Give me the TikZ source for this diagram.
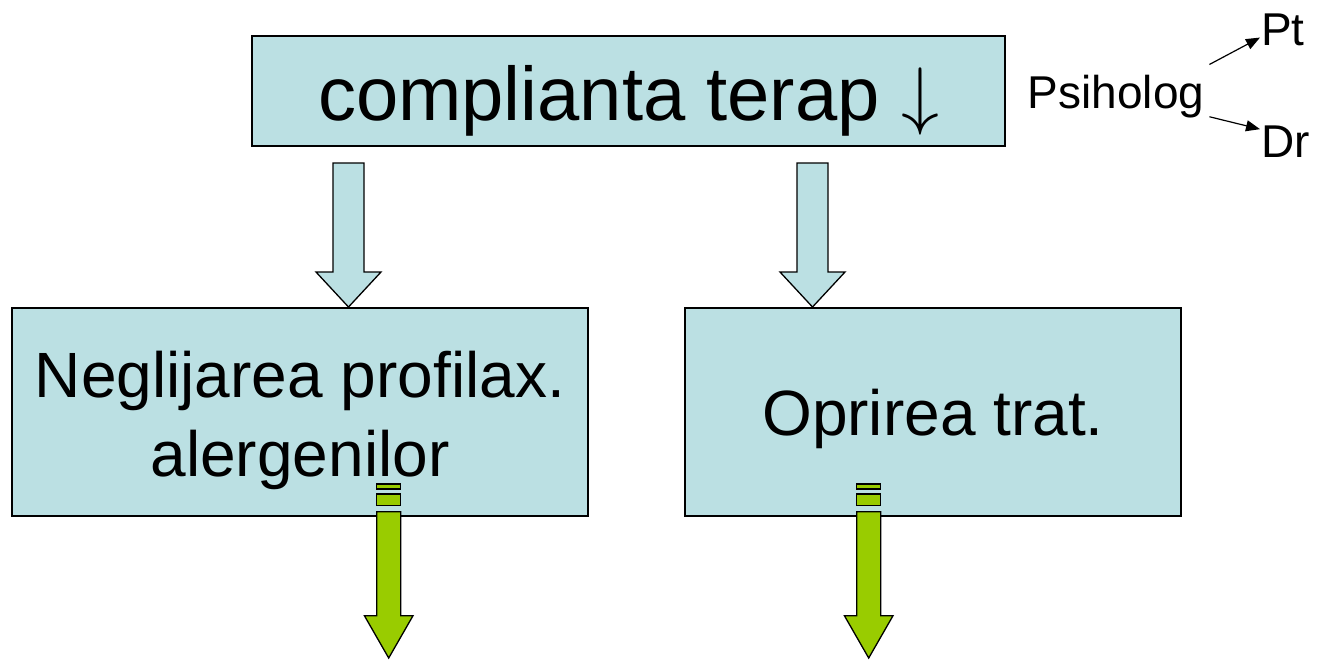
\documentclass[tikz,border=0pt]{standalone}
\usepackage{fontspec}
\setmainfont{Liberation Sans}
\usetikzlibrary{positioning}
\usetikzlibrary{arrows.meta}

\definecolor{boxblue}{HTML}{BBE0E3}
\definecolor{arrowgreen}{HTML}{99CC00}

\begin{document}
\begin{tikzpicture}[x=1pt, y=-1pt,
       box/.style = {draw, line width=1.5pt, fill=boxblue, inner sep=0pt, align=center},% boxes
     label/.style = {inner sep=0pt, font=\fontsize{46}{50}\selectfont},% small texts
     block/.style = {draw, line width=1.3pt, line join=miter}% fat arrows
    ]
    \useasboundingbox (0,0) rectangle (1320,659);
    % fat arrows between the boxes
    \foreach \cx in {348.5, 812.5}
        \draw[block, fill=boxblue] (\cx-15.5,163) -- (\cx+15.5,163) -- (\cx+15.5,272)
            -- (\cx+32.5,272) -- (\cx,307) -- (\cx-32.5,272) -- (\cx-15.5,272) -- cycle;
    % boxes
    \node (comp) [box, minimum width=753pt, minimum height=110pt, text height=70pt, text depth=12pt,
        font=\fontsize{76}{80}\selectfont] at (628.5,91)
        {complianta terap \scalebox{3.05}{$\downarrow$}};
    \node (negl) [box, minimum width=576pt, minimum height=208pt] at (300,412) {};
    \node (negltxt) [inner sep=0pt, align=center, anchor=north,
        font=\fontsize{64}{79}\selectfont] at (300,351) {Neglijarea profilax.\\alergenilor};
    \node (opri) [box, minimum width=496pt, minimum height=208pt, text height=56pt, text depth=10pt,
        font=\fontsize{64}{70}\selectfont] at (933,412) {Oprirea trat.};
    % green arrows out of the boxes
    \foreach \cx in {388.7, 868.7} {
        \draw[block, fill=arrowgreen] (\cx-12,484) rectangle (\cx+12,489);
        \draw[block, fill=arrowgreen] (\cx-12,494) rectangle (\cx+12,505.7);
        \draw[block, fill=arrowgreen] (\cx-12,511.7) -- (\cx+12,511.7) -- (\cx+12,615.7)
            -- (\cx+24.3,615.7) -- (\cx,658) -- (\cx-24.3,615.7) -- (\cx-12,615.7) -- cycle;
    }
    % Psiholog
    \node (psi) [label, anchor=base] at (1116,108) {Psiholog};
    \node (pt) [label, anchor=base west] at (1261,45) {Pt};
    \node (dr) [label, anchor=base west] at (1261,157) {Dr};
    \draw[line width=1.2pt, -{Triangle[length=14pt, width=11pt]}]
        ([shift={(5,-10)}]psi.north east) -- ([shift={(-1,-8)}]pt.south west);
    \draw[line width=1.2pt, -{Triangle[length=14pt, width=11pt]}]
        ([shift={(5,-1)}]psi.south east) -- ([shift={(-1,4)}]dr.north west);
\end{tikzpicture}
\end{document}
